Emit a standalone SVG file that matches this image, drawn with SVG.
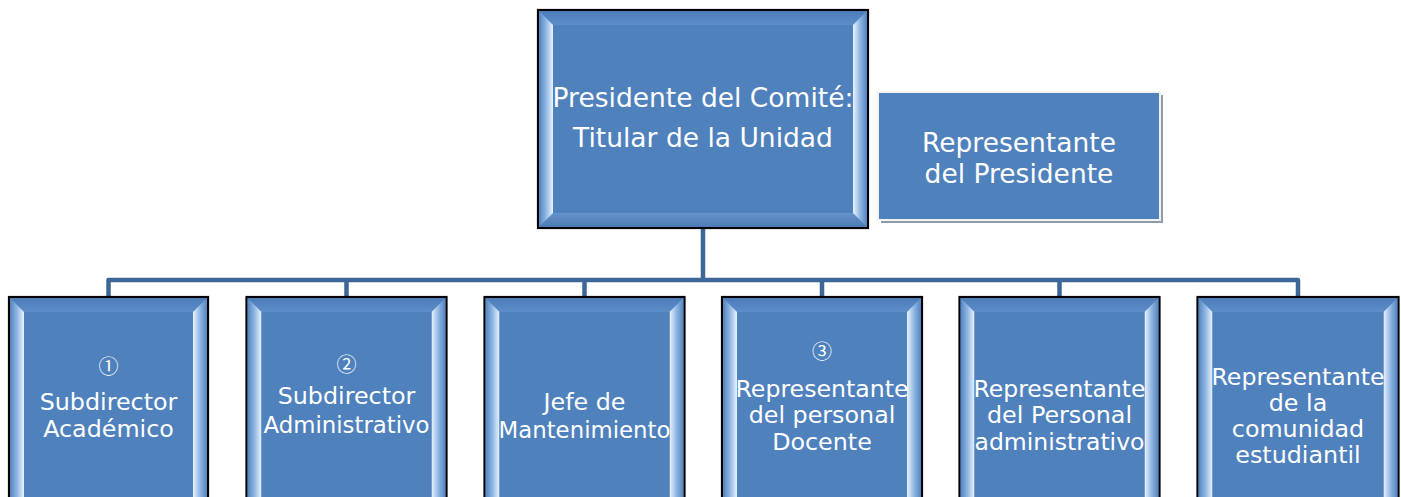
<svg xmlns="http://www.w3.org/2000/svg" width="1401" height="497" viewBox="0 0 1401 497">
<defs>
<linearGradient id="gl" x1="0" y1="0" x2="1" y2="0">
<stop offset="0" stop-color="#5383BE"/><stop offset="0.5" stop-color="#8FB6E3"/><stop offset="1" stop-color="#EAF4FD"/>
</linearGradient>
<linearGradient id="gr" x1="1" y1="0" x2="0" y2="0">
<stop offset="0" stop-color="#5383BE"/><stop offset="0.5" stop-color="#8FB6E3"/><stop offset="1" stop-color="#EAF4FD"/>
</linearGradient>
<linearGradient id="gt" x1="0" y1="0" x2="0" y2="1">
<stop offset="0" stop-color="#4C7DB9"/><stop offset="1" stop-color="#5E8DC7"/>
</linearGradient>
<linearGradient id="gb" x1="0" y1="1" x2="0" y2="0">
<stop offset="0" stop-color="#4B7BB6"/><stop offset="1" stop-color="#6593CB"/>
</linearGradient>
</defs>
<style>
.box{fill:#4F81BD;stroke:#000;stroke-width:2.2}
.bl{fill:url(#gl)}.br{fill:url(#gr)}.bt{fill:url(#gt)}.bb{fill:url(#gb)}
.t{font-family:"DejaVu Sans","Verdana",sans-serif;fill:#fff;text-anchor:middle}
.big{font-size:26.5px}.mid{font-size:26.5px}.sm{font-size:23.8px}
.num{font-family:"Noto Sans CJK JP","DejaVu Sans",sans-serif;font-size:20px;fill:#fff;text-anchor:middle}
.con{fill:none;stroke:#3C6796;stroke-width:4.5;stroke-linejoin:round}
</style>

<g id="connectors">
<path class="con" d="M703,228 V280"/>
<path class="con" d="M108.5,297 V280 H1298 V297"/>
<path class="con" d="M346.5,280 V297 M584.5,280 V297 M822,280 V297 M1059.5,280 V297"/>
</g>

<g id="presidente">
<rect class="box" x="538" y="10" width="330" height="218"/>
<polygon class="bt" points="539,11 867,11 853,25 553,25"/>
<polygon class="bb" points="539,227 867,227 853,213 553,213"/>
<polygon class="bl" points="539,11 553,25 553,213 539,227"/>
<polygon class="br" points="867,11 853,25 853,213 867,227"/>
<rect x="553" y="25" width="300" height="188" fill="#4F81BD"/>
<text class="t big" x="703" y="107">Presidente del Comité:</text>
<text class="t big" x="703" y="147">Titular de la Unidad</text>
</g>

<g id="representante-presidente">
<rect x="881" y="95" width="282" height="128" fill="#8E9BAA"/>
<rect x="878" y="92" width="282" height="128" fill="#4F81BD" stroke="#F2F2F2" stroke-width="2"/>
<text class="t mid" x="1019" y="152">Representante</text>
<text class="t mid" x="1019" y="183">del Presidente</text>
</g>

<g id="subdirector-academico">
<rect class="box" x="9" y="297" width="199" height="220"/>
<polygon class="bt" points="10,298 207,298 193,312 24,312"/>
<polygon class="bl" points="10,298 24,312 24,520 10,520"/>
<polygon class="br" points="207,298 193,312 193,520 207,520"/>
<rect x="24" y="312" width="169" height="200" fill="#4F81BD"/>
<text class="num" x="108.5" y="374">①</text>
<text class="t sm" x="108.5" y="410">Subdirector</text>
<text class="t sm" x="108.5" y="437">Académico</text>
</g>

<g id="subdirector-administrativo">
<rect class="box" x="246.5" y="297" width="200" height="220"/>
<polygon class="bt" points="247.5,298 445.5,298 431.5,312 261.5,312"/>
<polygon class="bl" points="247.5,298 261.5,312 261.5,520 247.5,520"/>
<polygon class="br" points="445.5,298 431.5,312 431.5,520 445.5,520"/>
<rect x="261.5" y="312" width="170" height="200" fill="#4F81BD"/>
<text class="num" x="346.5" y="372">②</text>
<text class="t sm" x="346.5" y="404">Subdirector</text>
<text class="t sm" x="346.5" y="433" textLength="166" lengthAdjust="spacingAndGlyphs">Administrativo</text>
</g>

<g id="jefe-mantenimiento">
<rect class="box" x="484.5" y="297" width="200" height="220"/>
<polygon class="bt" points="485.5,298 683.5,298 669.5,312 499.5,312"/>
<polygon class="bl" points="485.5,298 499.5,312 499.5,520 485.5,520"/>
<polygon class="br" points="683.5,298 669.5,312 669.5,520 683.5,520"/>
<rect x="499.5" y="312" width="170" height="200" fill="#4F81BD"/>
<text class="t sm" x="584.5" y="410">Jefe de</text>
<text class="t sm" x="584.5" y="438" textLength="172" lengthAdjust="spacingAndGlyphs">Mantenimiento</text>
</g>

<g id="rep-docente">
<rect class="box" x="722" y="297" width="200" height="220"/>
<polygon class="bt" points="723,298 921,298 907,312 737,312"/>
<polygon class="bl" points="723,298 737,312 737,520 723,520"/>
<polygon class="br" points="921,298 907,312 907,520 921,520"/>
<rect x="737" y="312" width="170" height="200" fill="#4F81BD"/>
<text class="num" x="822" y="359">③</text>
<text class="t sm" x="822" y="397" textLength="173" lengthAdjust="spacingAndGlyphs">Representante</text>
<text class="t sm" x="822" y="423">del personal</text>
<text class="t sm" x="822" y="450">Docente</text>
</g>

<g id="rep-administrativo">
<rect class="box" x="959.5" y="297" width="200" height="220"/>
<polygon class="bt" points="960.5,298 1158.5,298 1144.5,312 974.5,312"/>
<polygon class="bl" points="960.5,298 974.5,312 974.5,520 960.5,520"/>
<polygon class="br" points="1158.5,298 1144.5,312 1144.5,520 1158.5,520"/>
<rect x="974.5" y="312" width="170" height="200" fill="#4F81BD"/>
<text class="t sm" x="1059.5" y="397" textLength="172" lengthAdjust="spacingAndGlyphs">Representante</text>
<text class="t sm" x="1059.5" y="423">del Personal</text>
<text class="t sm" x="1059.5" y="450" textLength="170" lengthAdjust="spacingAndGlyphs">administrativo</text>
</g>

<g id="rep-estudiantil">
<rect class="box" x="1197.5" y="297" width="201" height="220"/>
<polygon class="bt" points="1198.5,298 1397.5,298 1383.5,312 1212.5,312"/>
<polygon class="bl" points="1198.5,298 1212.5,312 1212.5,520 1198.5,520"/>
<polygon class="br" points="1397.5,298 1383.5,312 1383.5,520 1397.5,520"/>
<rect x="1212.5" y="312" width="171" height="200" fill="#4F81BD"/>
<text class="t sm" x="1298" y="385" textLength="173" lengthAdjust="spacingAndGlyphs">Representante</text>
<text class="t sm" x="1298" y="411">de la</text>
<text class="t sm" x="1298" y="437">comunidad</text>
<text class="t sm" x="1298" y="463">estudiantil</text>
</g>
</svg>
